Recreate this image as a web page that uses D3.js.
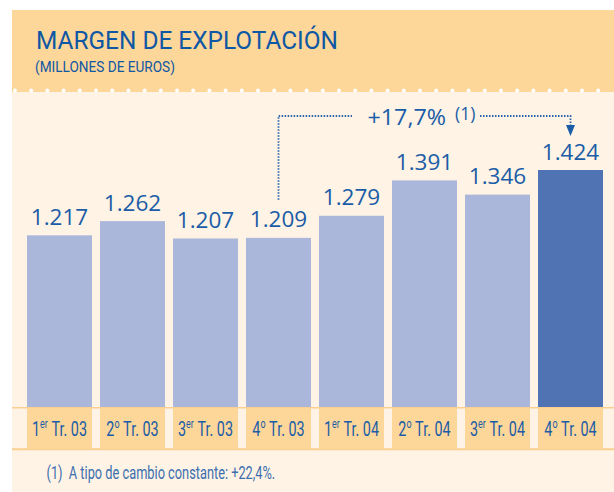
<!DOCTYPE html>
<html><head><meta charset="utf-8">
<script src="https://cdn.jsdelivr.net/npm/d3@7"></script>
<style>html,body{margin:0;padding:0;background:#fff;}</style>
</head><body>
<svg id="c" width="614" height="492"></svg>
<script>
// ---- data ----
const categories = ["1T03","2T03","3T03","4T03","1T04","2T04","3T04","4T04"];
const quarterNum = ["1","2","3","4","1","2","3","4"];
const quarterSup = ["er","o","er","o","er","o","er","o"];
const quarterYear = ["03","03","03","03","04","04","04","04"];
const values = [1217, 1262, 1207, 1209, 1279, 1391, 1346, 1424];
const valueLabels = ["1.217","1.262","1.207","1.209","1.279","1.391","1.346","1.424"];
const title = "MARGEN DE EXPLOTACIÓN";
const subtitle = "(MILLONES DE EUROS)";
const growthLabel = "+17,7%";
const growthNote = "(1)";
const footnote = "(1)\u00a0\u00a0A tipo de cambio constante: +22,4%.";

// ---- styles ----
const C = {
  cream: "#FEF3E4", orange: "#FDD699", orangeLine: "#FBD08F",
  bar: "#AAB6DA", barHi: "#5073B4", title: "#0E57A4", text: "#1A5CA7", foot: "#3C6EB0"
};
const narrow = "Roboto, 'Liberation Sans', sans-serif";
const wide = "'Open Sans', 'Noto Sans', sans-serif";

const svg = d3.select("#c");

// panel
svg.append("rect").attr("x",12).attr("y",10).attr("width",602).attr("height",482).attr("fill",C.cream);
svg.append("rect").attr("x",12).attr("y",10).attr("width",602).attr("height",82).attr("fill",C.orange);
// white dots along header edge
const dotX = d3.range(15, 614, 16.2);
svg.append("g").selectAll("circle").data(dotX).join("circle")
  .attr("cx",d=>d).attr("cy",90.5).attr("r",2).attr("fill","#fff");

// condense helper: scale text horizontally to a target width
function fit(sel, x, y, target, anchor) {
  sel.attr("x",0).attr("y",0).attr("text-anchor",anchor||"start");
  const w = sel.node().getBBox().width;
  const s = target / w;
  sel.attr("transform",`translate(${x},${y}) scale(${s},1)`);
  return s;
}

// title
fit(svg.append("text").text(title).attr("font-family",narrow).attr("font-size",25.5)
  .attr("fill",C.title), 36, 48.5, 302);
fit(svg.append("text").text(subtitle).attr("font-family",narrow).attr("font-size",15.5)
  .attr("fill",C.title), 35, 71.8, 140);

// scales
const x = d3.scaleBand().domain(categories).range([27, 603]).paddingInner(8/73).paddingOuter(0);
const yBase = 673; // truncated value axis start
const y = d3.scaleLinear().domain([yBase, 1424]).range([407, 170]);

// bars
svg.append("g").selectAll("rect").data(values).join("rect")
  .attr("x",(d,i)=>x(categories[i])).attr("width",x.bandwidth())
  .attr("y",d=>y(d)).attr("height",d=>y(yBase)-y(d))
  .attr("fill",(d,i)=>i===values.length-1?C.barHi:C.bar);

// value labels
svg.append("g").selectAll("text").data(values).join("text")
  .attr("x",(d,i)=>x(categories[i])+x.bandwidth()/2)
  .attr("y",d=>y(d)-10.5)
  .attr("text-anchor","middle").attr("font-family",wide).attr("font-size",22.5)
  .attr("fill",C.text).text((d,i)=>valueLabels[i]);

// category band
svg.append("line").attr("x1",12).attr("x2",614).attr("y1",407.8).attr("y2",407.8)
  .attr("stroke",C.orangeLine).attr("stroke-width",1.4);
svg.append("g").selectAll("rect").data(categories).join("rect")
  .attr("x",d=>x(d)).attr("width",x.bandwidth()).attr("y",408).attr("height",40.5)
  .attr("fill",C.orange);
svg.append("line").attr("x1",12).attr("x2",614).attr("y1",449.2).attr("y2",449.2)
  .attr("stroke",C.orangeLine).attr("stroke-width",2);

// category labels with superscripts
let catScale = null;
categories.forEach((c,i)=>{
  const t = svg.append("text").attr("font-family",narrow).attr("font-size",20).attr("fill",C.text);
  t.append("tspan").text(quarterNum[i]);
  t.append("tspan").text(quarterSup[i]).attr("font-size",12.5).attr("dy",-7.5);
  t.append("tspan").text("\u00a0Tr. " + quarterYear[i]).attr("dy",7.5);
  const cx = x(c)+x.bandwidth()/2;
  if (catScale === null) {
    t.attr("text-anchor","middle");
    const w = t.node().getBBox().width;
    catScale = 55 / w;
  }
  t.attr("text-anchor","middle").attr("x",0).attr("y",0)
   .attr("transform",`translate(${cx},435.5) scale(${catScale},1)`);
});

// footnote
fit(svg.append("text").text(footnote).attr("font-family",narrow).attr("font-size",18.5)
  .attr("fill",C.foot), 46.5, 478.5, 229);

// growth annotation
const i0 = 3, i1 = 7;
const xa = x(categories[i0]) + x.bandwidth()/2;
const xb = x(categories[i1]) + x.bandwidth()/2;
const yLine = 116;
const dotStyle = s => s.attr("fill","none").attr("stroke","#2A64AC").attr("stroke-width",1.8)
  .attr("stroke-dasharray","1.5 1.5");
svg.append("path").attr("d",`M${xa},${y(values[i0])-38}V${yLine}H352`).call(dotStyle);
svg.append("path").attr("d",`M480,${yLine}H${xb}V${y(values[i1])-45}`).call(dotStyle);
svg.append("path")
  .attr("d",`M${xb-4.5},${y(values[i1])-45}L${xb+4.5},${y(values[i1])-45}L${xb},${y(values[i1])-34}Z`)
  .attr("fill","#1A5CA7");

const g1 = svg.append("text").text(growthLabel).attr("font-family",wide).attr("font-size",21)
  .attr("fill",C.text);
fit(g1, 367.5, 124.5, 78.5);
svg.append("text").text(growthNote).attr("x",455).attr("y",120)
  .attr("font-family",wide).attr("font-size",17.5).attr("fill",C.text);
</script>
</body></html>
